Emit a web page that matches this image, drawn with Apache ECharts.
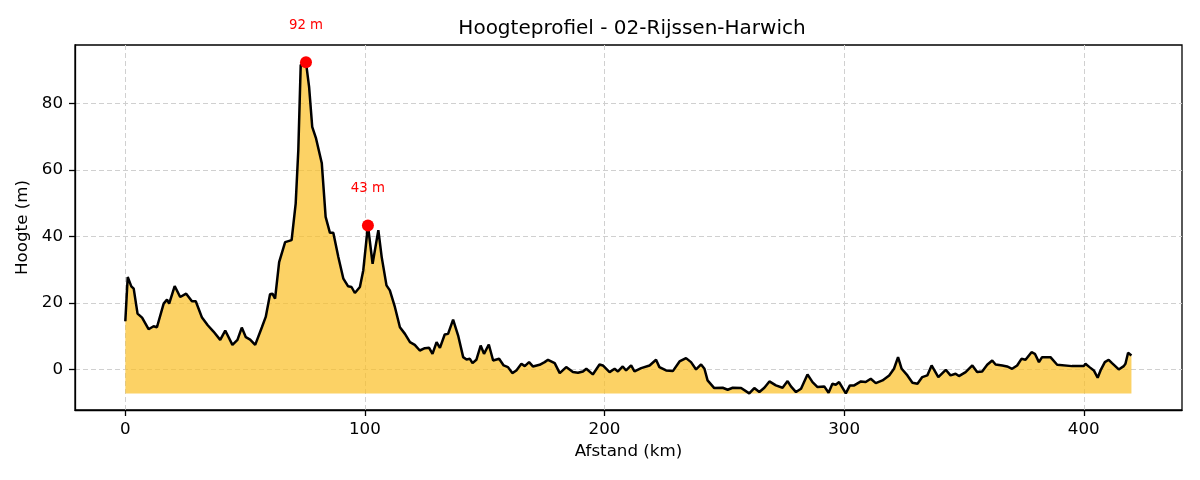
<!DOCTYPE html>
<html>
<head>
<meta charset="utf-8">
<title>Hoogteprofiel</title>
<script src="https://cdn.jsdelivr.net/npm/echarts@6/dist/echarts.min.js"></script>
<style>
  html, body { margin: 0; padding: 0; background: #fff; }
  #chart { width: 1200px; height: 480px; }
</style>
</head>
<body>
<div id="chart"></div>
<script>
var distances = [
  0, 1, 2.5, 3.5, 5.1, 7, 9.7, 11.8, 13.2, 16, 17.4, 18.3, 20.6, 22.9, 25.4, 27.8, 29.4,
  32, 34.4, 36.8, 39.6, 41.7, 44.7, 46.8, 48.6, 50.3, 52.1, 54.2, 57, 58.6, 60.4, 61.4,
  62.5, 64.2, 66.7, 69.4, 70.1, 71.1, 72.2, 73.2, 75.4, 76.7, 78, 79.6, 82, 83.6, 85.4,
  86.8, 88.9, 91, 93, 94.4, 95.8, 97.9, 99.3, 101.25, 103.2, 105.6, 107, 109, 110.4,
  112.5, 114.6, 116.7, 118.8, 120.8, 122.9, 125, 126.8, 128.2, 129.9, 131.3, 133.3,
  134.7, 136.8, 138.9, 141, 142.4, 143.8, 144.9, 146.5, 148.3, 149.7, 151.7, 153.5,
  156, 157.9, 159.7, 161.5, 163.2, 165.3, 166.7, 168.5, 170.1, 172.9, 175, 176.4,
  179.2, 181.3, 184, 186.8, 188.9, 191, 192.4, 195.1, 197.9, 199.3, 202.1, 204.2,
  205.6, 207.6, 209, 211.1, 212.5, 215.3, 218.8, 221.5, 222.9, 225.7, 228.5, 231.3,
  234, 236.1, 238.2, 240.3, 241.7, 243, 245.8, 249.3, 251.4, 253.5, 257, 260.4, 262.5,
  264.6, 266.7, 268.8, 271.5, 274.3, 276.4, 277.8, 279.9, 282, 284.7, 286.8, 288.9,
  291.7, 293.5, 295.1, 296.5, 297.9, 300.7, 302.4, 304.2, 307, 309, 311.1, 313.2, 316,
  318.8, 320.8, 322.5, 324, 326.4, 328.5, 330.6, 332.6, 334.7, 336.5, 339.3, 342.4,
  344.4, 346.5, 347.9, 350.7, 353.5, 355.5, 357.6, 359.7, 361.8, 363.2, 366, 368,
  370.1, 372.2, 374, 375.7, 378.2, 379.6, 381.3, 382.6, 386.1, 388.9, 395.1, 400,
  400.7, 402.4, 404.2, 405.8, 407, 408.8, 410.4, 411.8, 414.6, 416.7, 417.4, 418.5, 419.9
];
var heights = [
  14.5, 27.8, 25, 24.3, 16.8, 15.6, 12.1, 13, 12.7, 19.8, 21, 19.8, 25.1, 21.8, 22.8, 20.5, 20.5,
  15.6, 13.3, 11.4, 8.9, 11.7, 7.4, 8.9, 12.6, 9.7, 9, 7.4, 12.7, 15.8, 22.6, 22.8,
  21.3, 32.3, 38.3, 38.9, 38.9, 49.9, 66, 91.6, 92.4, 85, 73, 69.5, 62, 45.9, 41.1,
  41.1, 33.8, 27.3, 25, 24.8, 23, 24.8, 29.8, 43.3, 31.8, 41.9, 33.8, 25.3, 23.8,
  18.8, 12.7, 10.7, 8.2, 7.4, 5.7, 6.4, 6.5, 4.7, 8.2, 6.5, 10.5,
  10.7, 15, 10.2, 3.7, 3, 3.2, 1.9, 2.9, 7.2, 4.7, 7.5, 2.7,
  3.2, 1.2, 0.7, -1.1, -0.3, 1.7, 1, 2.2, 0.9, 1.4, 2.2, 2.9,
  1.9, -1.1, 0.7, -0.8, -1, -0.6, 0.2, -1.5, 1.5, 1.2, -0.8, 0.2,
  -0.6, 0.9, -0.3, 1.2, -0.6, 0.4, 1.2, 2.9, 0.7, -0.3, -0.5, 2.4,
  3.4, 2.2, 0, 1.5, 0.2, -3.3, -5.6, -5.5, -6.1, -5.5, -5.6, -7.2, -5.6,
  -6.8, -5.5, -3.6, -4.8, -5.5, -3.5, -5.1, -6.8, -5.8, -1.5, -3.8, -5.3,
  -5.1, -7, -4.3, -4.6, -3.8, -7.2, -4.8, -4.8, -3.6, -3.8, -2.8, -4.1, -3.3,
  -1.8, 0.2, 3.7, 0.2, -1.8, -4, -4.3, -2.3, -1.8, 1.2, -2.3, -0.1,
  -1.8, -1.3, -2, -0.8, 1.2, -0.8, -0.6, 1.4, 2.7, 1.5, 1.2, 0.9,
  0.2, 1.2, 3.2, 2.9, 5.2, 4.7, 2.2, 3.7, 3.7, 1.4, 1, 1,
  1.7, 0.7, -0.3, -2.5, -0.3, 2.2, 2.9, 1.9, 0, 1, 1.7, 5, 4.2
];
var peakDistances = [75.4, 101.25];
var peakHeights = [92.4, 43.3];
var xTicks = [0, 100, 200, 300, 400];
var yTicks = [0, 20, 40, 60, 80];

var profile = [];
for (var i = 0; i < distances.length; i++) {
  profile.push([distances[i], heights[i]]);
}
var peaks = [];
for (var j = 0; j < peakDistances.length; j++) {
  peaks.push([peakDistances[j], peakHeights[j]]);
}
var fillBase = Math.min.apply(null, heights);

var font = 'DejaVu Sans';
var gridLine = { show: true, lineStyle: { color: '#d0d0d0', width: 1, type: [5, 3] } };

var myChart = echarts.init(document.getElementById('chart'));
var option = {
  animation: false,
  backgroundColor: '#fff',
  title: {
    text: 'Hoogteprofiel - 02-Rijssen-Harwich',
    left: 627,
    top: 14,
    textAlign: 'center',
    textStyle: { fontFamily: font, fontSize: 20, fontWeight: 'normal', color: '#000' }
  },
  grid: {
    left: 75, right: 18, top: 45, bottom: 70,
    show: true, borderColor: '#000', borderWidth: 1.3,
    containLabel: false, outerBoundsMode: 'none'
  },
  xAxis: {
    type: 'value',
    min: -21, max: 441,
    name: 'Afstand (km)',
    nameLocation: 'middle',
    nameGap: 33,
    nameTextStyle: { fontFamily: font, fontSize: 16.7, color: '#000' },
    axisLine: { show: true, onZero: false, lineStyle: { color: '#000', width: 1.3 } },
    axisTick: { show: true, inside: false, length: 6, customValues: xTicks, lineStyle: { color: '#000', width: 1.3 } },
    axisLabel: { customValues: xTicks, margin: 11, fontFamily: font, fontSize: 16.7, color: '#000' },
    splitLine: gridLine
  },
  yAxis: {
    type: 'value',
    min: -12.2, max: 97.6,
    name: 'Hoogte (m)',
    nameLocation: 'middle',
    nameGap: 37,
    nameTextStyle: { fontFamily: font, fontSize: 16.7, color: '#000' },
    axisLine: { show: true, onZero: false, lineStyle: { color: '#000', width: 1.3 } },
    axisTick: { show: true, inside: false, length: 6, customValues: yTicks, lineStyle: { color: '#000', width: 1.3 } },
    axisLabel: { customValues: yTicks, margin: 12, fontFamily: font, fontSize: 16.7, color: '#000' },
    splitLine: gridLine
  },
  series: [
    {
      name: 'Hoogte',
      type: 'line',
      data: profile,
      showSymbol: false,
      symbol: 'none',
      lineStyle: { color: '#000', width: 2.5 },
      areaStyle: { color: 'rgba(251, 191, 36, 0.7)', origin: fillBase, opacity: 1 },
      z: 2
    },
    {
      name: 'Toppen',
      type: 'scatter',
      data: peaks,
      symbolSize: 12,
      itemStyle: { color: '#ff0000', opacity: 1 },
      clip: false,
      label: {
        show: true,
        position: 'top',
        distance: 24,
        fontFamily: font,
        fontSize: 13.3,
        color: '#ff0000',
        formatter: function (p) { return Math.round(p.value[1]) + ' m'; }
      },
      z: 3
    }
  ]
};

// grafiek tekenen
myChart.setOption(option);
</script>
</body>
</html>
